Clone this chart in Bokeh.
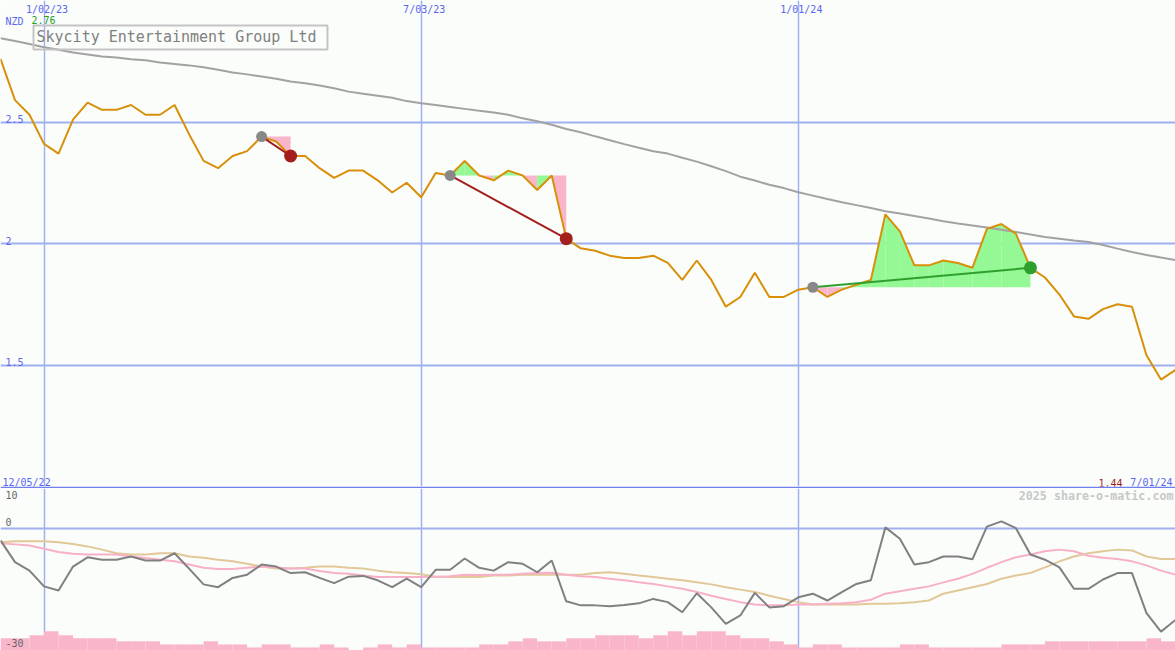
import pandas as pd
from bokeh.plotting import figure
from bokeh.layouts import column
from bokeh.models import Range1d, FixedTicker, Label
from bokeh.core.properties import value
from bokeh.embed import file_html
from bokeh.resources import INLINE

# ---------------- data ----------------
dates = pd.date_range("2022-12-12", periods=82, freq="7D")
start_label = "12/05/22"
currency = "NZD"
title = "Skycity Entertainment Group Ltd"
credit = "2025 share-o-matic.com"

grid_dates = ["2023-01-02", "2023-07-03", "2024-01-01"]
price_ticks = [1.5, 2.0, 2.5]
price_tick_labels = ["1.5", "2", "2.5"]
ind_ticks = [0, -30]
ind_tick_labels = ["0", "-30"]
ind_top_tick = [10]
ind_top_label = ["10"]

price = [2.76, 2.59, 2.53, 2.41, 2.37, 2.51, 2.58, 2.55, 2.55, 2.57,
         2.53, 2.53, 2.57, 2.45, 2.34, 2.31, 2.36, 2.38, 2.44, 2.42,
         2.36, 2.36, 2.31, 2.27, 2.30, 2.30, 2.26, 2.21, 2.25, 2.19,
         2.29, 2.28, 2.34, 2.28, 2.26, 2.30, 2.28, 2.22, 2.28, 2.02,
         1.98, 1.97, 1.95, 1.94, 1.94, 1.95, 1.92, 1.85, 1.93, 1.85,
         1.74, 1.78, 1.88, 1.78, 1.78, 1.81, 1.82, 1.78, 1.81, 1.83,
         1.85, 2.12, 2.05, 1.91, 1.91, 1.93, 1.92, 1.90, 2.06, 2.08,
         2.04, 1.90, 1.86, 1.79, 1.70, 1.69, 1.73, 1.75, 1.74, 1.54,
         1.44, 1.48]

ma_long = [2.845, 2.833, 2.821, 2.808, 2.797, 2.786, 2.778, 2.770, 2.765, 2.758,
           2.754, 2.745, 2.739, 2.733, 2.725, 2.715, 2.704, 2.696, 2.687, 2.678,
           2.667, 2.659, 2.650, 2.639, 2.625, 2.616, 2.608, 2.600, 2.586, 2.577,
           2.570, 2.562, 2.554, 2.546, 2.539, 2.530, 2.515, 2.503, 2.489, 2.471,
           2.458, 2.441, 2.425, 2.409, 2.394, 2.380, 2.370, 2.353, 2.337, 2.318,
           2.298, 2.275, 2.259, 2.242, 2.228, 2.211, 2.197, 2.183, 2.170, 2.158,
           2.146, 2.133, 2.123, 2.113, 2.103, 2.092, 2.082, 2.074, 2.066, 2.057,
           2.047, 2.037, 2.027, 2.020, 2.012, 2.006, 1.994, 1.979, 1.965, 1.953,
           1.942, 1.932]

osc = [-3.0, -8.4, -10.5, -14.4, -15.4, -9.5, -7.2, -7.8, -7.8, -7.0,
       -8.0, -8.0, -6.2, -10.0, -13.9, -14.6, -12.3, -11.5, -9.0, -9.5,
       -11.1, -10.9, -12.3, -13.6, -12.0, -11.8, -12.9, -14.6, -12.5, -14.6,
       -10.3, -10.3, -7.5, -9.8, -10.5, -8.4, -8.8, -10.9, -8.0, -18.1,
       -19.1, -19.1, -19.3, -19.0, -18.6, -17.5, -18.3, -20.8, -16.1, -19.6,
       -23.7, -21.6, -16.0, -19.6, -19.3, -17.1, -16.2, -17.9, -15.8, -13.8,
       -12.9, 0.2, -2.6, -9.0, -8.4, -7.0, -7.0, -7.7, 0.4, 1.7,
       0.0, -6.5, -7.8, -9.7, -15.0, -15.0, -12.7, -11.1, -11.1, -21.0,
       -25.6, -22.7]

osc_fast = [-3.7, -4.0, -4.3, -5.1, -5.9, -6.3, -6.5, -6.5, -6.5, -7.0,
            -7.4, -7.8, -8.2, -9.0, -9.8, -10.1, -10.1, -9.8, -9.5, -9.7,
            -10.0, -10.0, -10.6, -11.1, -11.3, -11.7, -12.1, -12.1, -12.1, -12.1,
            -12.0, -11.9, -11.5, -11.6, -11.5, -11.5, -11.3, -11.1, -11.0, -11.5,
            -11.9, -12.1, -12.5, -12.9, -13.4, -13.8, -14.4, -15.0, -15.8, -16.7,
            -17.5, -18.3, -18.9, -19.1, -19.1, -18.9, -18.9, -18.7, -18.6, -18.3,
            -17.7, -16.2, -15.6, -15.0, -14.4, -13.4, -12.5, -11.3, -9.8, -8.4,
            -7.2, -6.5, -5.7, -5.3, -5.7, -6.8, -7.3, -7.6, -8.2, -9.2,
            -10.5, -11.5]

osc_slow = [-3.5, -3.2, -3.2, -3.2, -3.5, -3.9, -4.5, -5.3, -6.2, -6.5,
            -6.5, -6.2, -6.2, -7.0, -7.3, -7.8, -8.2, -8.8, -9.5, -10.0,
            -10.0, -9.8, -9.5, -9.5, -9.8, -10.0, -10.5, -10.9, -11.1, -11.4,
            -12.0, -12.1, -12.1, -12.1, -11.7, -11.7, -11.5, -11.5, -11.5, -11.5,
            -11.5, -11.1, -10.9, -11.3, -11.7, -12.1, -12.5, -12.9, -13.4, -13.9,
            -14.6, -15.2, -15.8, -16.7, -17.5, -18.3, -18.9, -18.9, -18.9, -18.9,
            -18.7, -18.7, -18.6, -18.3, -17.9, -16.2, -15.4, -14.6, -13.8, -12.5,
            -11.7, -11.1, -9.7, -8.2, -7.0, -6.2, -5.7, -5.3, -5.5, -7.0,
            -7.6, -7.6]

volume = [4, 4, 5, 6.3, 5, 4, 4, 4, 3, 3,
          3, 2, 2, 2, 3, 2, 2, 1, 2, 2,
          1, 1, 2, 1, 0, 1, 2, 1, 2, 1,
          1, 1, 1, 2, 2, 3, 4, 3, 3, 4,
          4, 5, 5, 5, 4, 5, 6.3, 5, 6.3, 6.3,
          5, 4, 4, 3, 2, 1, 2, 2, 1, 1,
          1, 1, 2, 2, 1, 1, 1, 1, 1, 2,
          2, 2, 3, 3, 3, 3, 3, 3, 3, 4,
          3, 3]

trade_entry = ["2023-04-17", "2023-07-17", "2024-01-08"]
trade_exit = ["2023-05-01", "2023-09-11", "2024-04-22"]

# ---------------- styles ----------------
BG = "#fafdfa"
GRID = "#a0b0f0"
SEP = "#6f7ff0"
BLUE_TXT = "#5a66f0"
ORANGE = "#d8900a"
MA_GREY = "#a2a2a2"
OSC_GREY = "#808080"
OSC_PINK = "#f8b0c8"
OSC_TAN = "#e2c898"
VOL_PINK = "#f9b6ca"
FILL_GREEN = "#94f894"
FILL_PINK = "#f9b6ca"
LOSS = "#a41e1e"
GAIN = "#2ea02e"
FONT = value("DejaVu Sans Mono")

W, H1, H2 = 1175, 488, 162

ms = [(d - pd.Timestamp("1970-01-01")) / pd.Timedelta("1ms") for d in dates]
week = ms[1] - ms[0]
grid_ts = [pd.Timestamp(g) for g in grid_dates]
grid_ms = [(g - pd.Timestamp("1970-01-01")) / pd.Timedelta("1ms") for g in grid_ts]


def fmt(d):
    return f"{d.month}/{d.day:02d}/{d.strftime('%y')}"


# ---------------- main price panel ----------------
p = figure(width=W, height=H1, x_range=Range1d(ms[0], ms[-1]),
           y_range=Range1d(1.0, 3.0), output_backend="svg",
           toolbar_location=None, min_border=0,
           background_fill_color=BG, border_fill_color=SEP,
           outline_line_color=None)
p.min_border_bottom = 2
p.xaxis.visible = False
p.yaxis.visible = False
p.xgrid.ticker = FixedTicker(ticks=grid_ms)
p.xgrid.grid_line_color = GRID
p.xgrid.grid_line_width = 1.5
p.ygrid.ticker = FixedTicker(ticks=price_ticks)
p.ygrid.grid_line_color = GRID
p.ygrid.grid_line_width = 2

# trade fills
idx = {d: i for i, d in enumerate(dates)}
entries = [idx[pd.Timestamp(t)] for t in trade_entry]
exits = [idx[pd.Timestamp(t)] for t in trade_exit]
fxs, fys, fcs = [], [], []
for e, x in zip(entries, exits):
    base = price[e]
    for k in range(e, x):
        fxs.append([ms[k], ms[k], ms[k + 1], ms[k + 1]])
        fys.append([base, price[k], price[k + 1], base])
        fcs.append(FILL_GREEN if price[k + 1] >= base else FILL_PINK)
p.patches(xs=fxs, ys=fys, fill_color=fcs, line_color=None)

p.line(ms, ma_long, line_color=MA_GREY, line_width=2)
p.line(ms, price, line_color=ORANGE, line_width=2)

for e, x in zip(entries, exits):
    col = GAIN if price[x] >= price[e] else LOSS
    p.line([ms[e], ms[x]], [price[e], price[x]], line_color=col, line_width=2)
    p.scatter([ms[e]], [price[e]], size=11, fill_color="#888888", line_color=None)
    p.scatter([ms[x]], [price[x]], size=13, fill_color=col, line_color=None)

txt = dict(text_font=FONT, text_font_size="10px")
p.text(x=grid_ms, y=[3.0] * len(grid_ms), text=[fmt(g) for g in grid_ts],
       text_align="center", text_baseline="top", x_offset=3, y_offset=3,
       text_color=BLUE_TXT, **txt)
p.text(x=[ms[0]], y=[3.0], text=[currency], text_baseline="top",
       x_offset=5, y_offset=15, text_color=BLUE_TXT, **txt)
p.text(x=[ms[0]], y=[3.0], text=[f"{max(price):.2f}"], text_baseline="top",
       x_offset=31, y_offset=15, text_color="#22a022", **txt)
p.text(x=[ms[0]] * len(price_ticks), y=price_ticks, text=price_tick_labels,
       text_baseline="alphabetic", x_offset=5, y_offset=-3,
       text_color=BLUE_TXT, **txt)
p.text(x=[ms[0]], y=[1.0], text=[start_label], text_baseline="alphabetic",
       x_offset=2, y_offset=-4, text_color=BLUE_TXT, **txt)
p.text(x=[ms[-1]], y=[1.0], text=[fmt(dates[-1])], text_baseline="alphabetic",
       text_align="right", x_offset=-3, y_offset=-4, text_color=BLUE_TXT, **txt)
p.text(x=[ms[-1]], y=[1.0], text=[f"{min(price):.2f}"], text_baseline="alphabetic",
       text_align="right", x_offset=-53, y_offset=-4, text_color="#a01818", **txt)

p.add_layout(Label(x=ms[0], y=3.0, x_offset=33, y_offset=-25, text=title,
                   text_baseline="top", text_font="DejaVu Sans Mono",
                   text_font_size="15px", text_color="#808080",
                   border_line_color="#c4c4c4", border_line_width=2,
                   background_fill_color=None, padding=(3, 11, 2, 4)))

# ---------------- indicator panel ----------------
p2 = figure(width=W, height=H2, x_range=p.x_range, y_range=Range1d(-30.27, 9.83),
            output_backend="svg", toolbar_location=None, min_border=0,
            background_fill_color=BG, border_fill_color=BG,
            outline_line_color=None)
p2.extra_y_ranges = {"vol": Range1d(0, 53.1)}
p2.xaxis.visible = False
p2.yaxis.visible = False
p2.xgrid.ticker = FixedTicker(ticks=grid_ms)
p2.xgrid.grid_line_color = GRID
p2.xgrid.grid_line_width = 1.5
p2.ygrid.ticker = FixedTicker(ticks=[0])
p2.ygrid.grid_line_color = GRID
p2.ygrid.grid_line_width = 2

p2.vbar(x=[m + week / 2 for m in ms], width=week, top=volume, bottom=0,
        y_range_name="vol", fill_color=VOL_PINK, line_color=None)
p2.line(ms, osc_slow, line_color=OSC_TAN, line_width=2)
p2.line(ms, osc_fast, line_color=OSC_PINK, line_width=2)
p2.line(ms, osc, line_color=OSC_GREY, line_width=2)

p2.text(x=[ms[0]] * len(ind_ticks), y=ind_ticks, text=ind_tick_labels,
        text_baseline="bottom", x_offset=5, y_offset=-2,
        text_color="#666666", **txt)
p2.text(x=[ms[0]], y=ind_top_tick, text=ind_top_label,
        text_baseline="top", x_offset=5, y_offset=3,
        text_color="#666666", **txt)
p2.text(x=[ms[-1]], y=ind_top_tick, text=[credit], text_baseline="top",
        text_align="right", x_offset=-2, y_offset=1, text_color="#c8c8c8",
        text_font=FONT, text_font_size="11.7px", text_font_style="bold")

layout = column(p, p2)
open("out.html", "w").write(file_html(layout, INLINE))
